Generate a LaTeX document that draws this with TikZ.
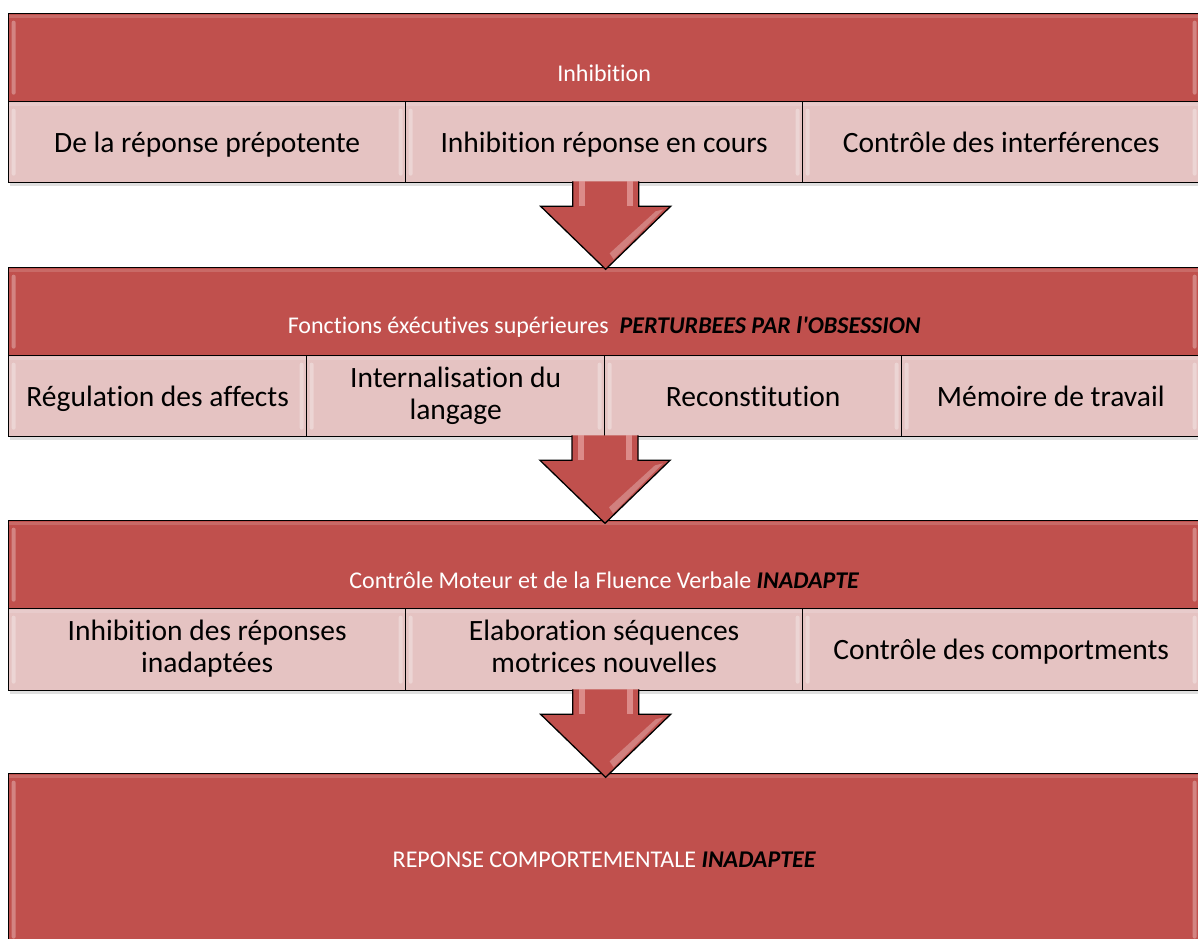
\documentclass[tikz,border=0pt]{standalone}
\usepackage{fontspec}
\setmainfont{Carlito}[Ligatures={TeXOff,NoCommon}]
\usetikzlibrary{calc,shadows}
\definecolor{hdred}{HTML}{C0504D}
\definecolor{subpink}{HTML}{E5C3C2}
\definecolor{shaftlight}{HTML}{E8A5A3}
\newcommand\boxstrut{\rule[-6pt]{0pt}{32pt}}
\begin{document}
\begin{tikzpicture}[x=1pt,y=-1pt,
  gloss/.style={path picture={
    \fill[white,opacity=0.3,rounded corners=2pt]
      ([xshift=3pt,yshift=-7pt]path picture bounding box.north west) rectangle
      ([xshift=7pt,yshift=7pt]path picture bounding box.south west);
    \fill[white,opacity=0.3,rounded corners=2pt]
      ([xshift=-3pt,yshift=-7pt]path picture bounding box.north east) rectangle
      ([xshift=-7pt,yshift=7pt]path picture bounding box.south east);
    \fill[white,opacity=0.15]
      ([yshift=-1pt]path picture bounding box.north west) rectangle
      ([yshift=-4pt]path picture bounding box.north east);
  }},
  panelbox/.style={draw=black, line width=1.3pt, anchor=north west, inner sep=0pt,
    drop shadow={shadow xshift=1pt, shadow yshift=-3pt, opacity=0.25}, gloss},
  hdr/.style={panelbox, fill=hdred, minimum width=1191pt, minimum height=88pt},
  subbox/.style={panelbox, fill=subpink, minimum height=81pt, align=center,
    font=\fontsize{29.5}{32}\selectfont, text=black,
    execute at begin node=\boxstrut, execute at end node=\boxstrut},
  hdtext/.style={text=white, inner sep=0pt, font=\fontsize{24}{28}\selectfont},
  downarrow/.pic={
    \fill[hdred] (-33,-2) -- (-33,23) -- (-65,23) -- (0,86) -- (65,23) -- (33,23) -- (33,-2) -- cycle;
    \fill[shaftlight,opacity=0.7] (-27,-2) rectangle (-21,23);
    \fill[shaftlight,opacity=0.7] (21,-2) rectangle (27,23);
    \fill[white,opacity=0.28] (50,28) -- (58,26) -- (8,76) -- (4,70) -- cycle;
    \draw[line width=1.3pt, line join=miter] (-33,-2) -- (-33,23) -- (-65,23) -- (0,86) -- (65,23) -- (33,23) -- (33,-2);
  }
]
\useasboundingbox (0,0) rectangle (1198,938);

% Panel 1
\node[hdr] (h1) at (8,13) {};
\node[hdtext] (t1) at ($(h1.north)+(0,60)$) {Inhibition};
\node[subbox, minimum width=397pt] (s1a) at (8,101) {De la réponse prépotente};
\node[subbox, minimum width=397pt] (s1b) at (405,101) {Inhibition réponse en cours};
\node[subbox, minimum width=397pt] (s1c) at (802,101) {Contrôle des interférences};

% Panel 2
\coordinate (a1) at ($(s1b.south)+(1.5,0)$);
\node[hdr] (h2) at (8,267) {};
\node[hdtext] (t2) at ($(h2.north)+(0,60)$) {Fonctions éxécutives supérieures\ \ {\color{black}\bfseries\itshape PERTURBEES PAR l'OBSESSION}};
\node[subbox, minimum width=298pt] (s2a) at (8,355) {Régulation des affects};
\node[subbox, minimum width=298pt] (s2b) at (306,355) {Internalisation du\\langage};
\node[subbox, minimum width=297pt] (s2c) at (604,355) {Reconstitution};
\node[subbox, minimum width=298pt] (s2d) at (901,355) {Mémoire de travail};
\pic at (a1) {downarrow};

% Panel 3
\coordinate (a2) at ($(s2c.south west)+(1,0)$);
\node[hdr] (h3) at (8,520) {};
\node[hdtext] (t3) at ($(h3.north)+(0,60)$) {Contrôle Moteur et de la Fluence Verbale {\color{black}\bfseries\itshape INADAPTE}};
\node[subbox, minimum width=397pt, minimum height=82pt] (s3a) at (8,608) {Inhibition des réponses\\inadaptées};
\node[subbox, minimum width=397pt, minimum height=82pt] (s3b) at (405,608) {Elaboration séquences\\motrices nouvelles};
\node[subbox, minimum width=397pt, minimum height=82pt] (s3c) at (802,608) {Contrôle des comportments};
\pic at (a2) {downarrow};

% Panel 4
\coordinate (a3) at ($(s3b.south)+(1.5,0)$);
\node[hdr, minimum height=172pt, font=\fontsize{24}{28}\selectfont, text=white] (h4) at (8,773) {REPONSE COMPORTEMENTALE {\color{black}\bfseries\itshape INADAPTEE}};
\pic at (a3) {downarrow};
\end{tikzpicture}
\end{document}
